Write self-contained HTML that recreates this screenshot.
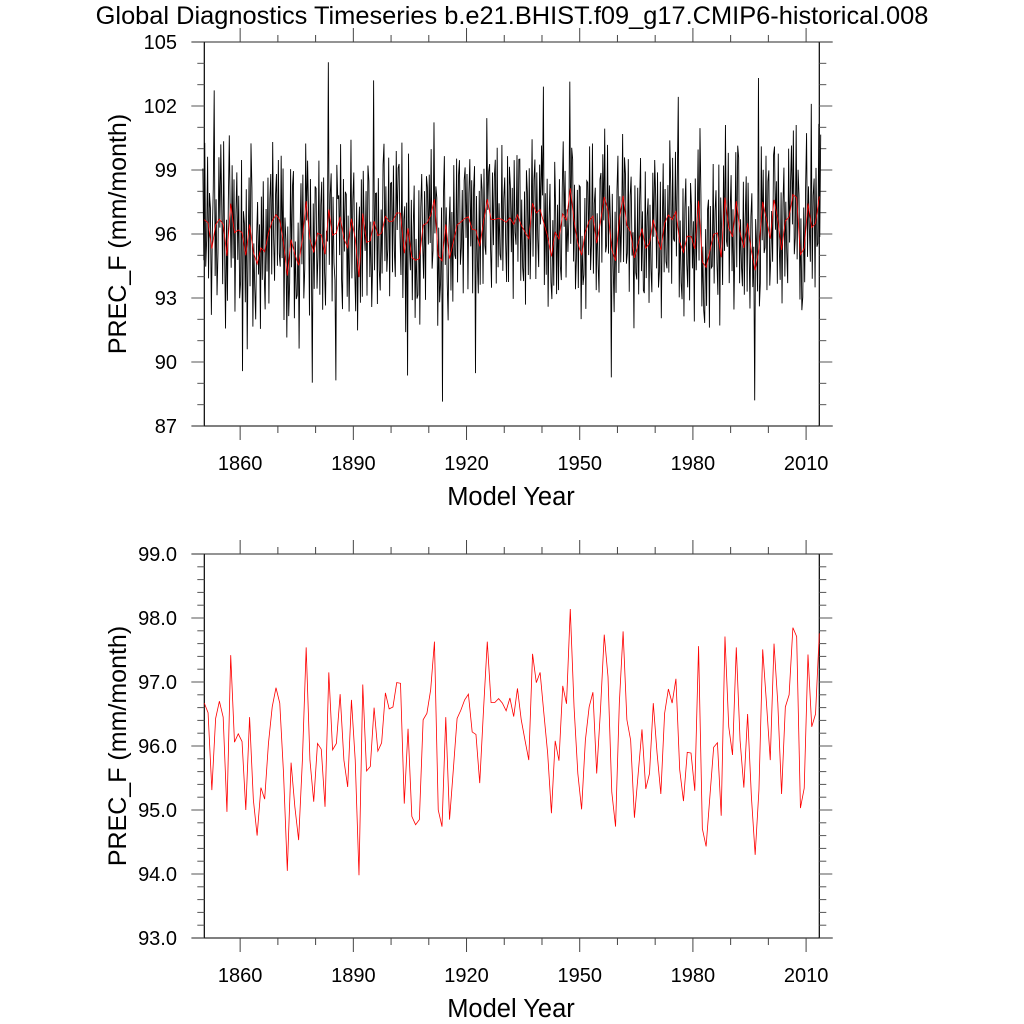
<!DOCTYPE html>
<html><head><meta charset="utf-8"><style>
html,body{margin:0;padding:0;background:#fff;}
svg{display:block;font-family:"Liberation Sans",Arial,sans-serif;}
</style></head><body>
<svg id="chart" width="1024" height="1024" viewBox="0 0 1024 1024" xmlns="http://www.w3.org/2000/svg">
<rect width="1024" height="1024" fill="#fff"/>
<text x="512" y="24" font-size="25.4" text-anchor="middle">Global Diagnostics Timeseries b.e21.BHIST.f09_g17.CMIP6-historical.008</text>
<g id="top"></g>
<g id="bot"></g>
</svg>
<script>
// annual mean PREC_F (mm/month), years 1850..2013
const annualValues = [96.67,96.52,95.31,96.43,96.70,96.45,94.97,97.42,96.06,96.19,96.07,95.00,96.45,95.16,94.60,95.35,95.17,96.04,96.61,96.91,
96.67,95.57,94.05,95.74,95.05,94.53,95.78,97.54,95.78,95.13,96.04,95.95,95.05,97.15,95.94,96.04,96.81,95.78,95.36,96.72,
95.78,93.98,96.96,95.61,95.68,96.60,95.92,96.05,96.83,96.58,96.61,96.99,96.98,95.10,96.27,94.90,94.77,94.85,96.41,96.51,
96.88,97.63,95.00,94.74,96.45,94.85,95.63,96.43,96.56,96.72,96.81,96.22,96.18,95.42,96.56,97.63,96.68,96.68,96.74,96.67,
96.55,96.75,96.46,96.90,96.41,96.09,95.78,97.44,96.99,97.15,96.51,95.89,94.95,96.08,95.77,96.94,96.66,98.14,96.61,95.57,
95.01,96.09,96.61,96.84,95.57,96.56,97.74,97.08,95.28,94.74,96.67,97.79,96.41,96.09,94.88,95.57,96.26,95.33,95.57,96.67,
95.89,95.25,96.51,96.89,96.67,97.05,95.63,95.14,95.90,95.89,95.30,97.56,94.71,94.43,95.21,95.98,96.05,94.91,97.71,96.30,
95.86,97.54,96.09,95.35,96.50,95.21,94.30,95.31,97.51,96.67,95.78,97.60,96.67,95.25,96.61,96.80,97.85,97.71,95.03,95.34,
97.43,96.30,96.50,97.76];
const startYear = 1850;
// sub-annual (quarterly) anomalies from the annual mean, 4 per year
const subAnnualAnom = [2.4,-1.9,3.6,-2.2,-0.8,3.1,-2.6,1.4,1.9,-3.1,0.7,2.8,6.3,-2.4,1.2,-3.3,-1.6,2.9,-0.4,3.5,
0.9,-2.8,3.9,-1.1,-3.4,1.7,-2.1,2.6,3.2,-0.6,-3.0,1.8,-1.2,2.5,-3.7,0.8,2.7,-1.4,1.6,-3.2,
-2.3,3.4,-6.5,1.0,1.5,-2.2,3.1,-4.4,-0.9,2.2,-2.9,3.8,3.0,-3.5,0.4,-1.7,-2.6,1.3,2.9,-0.5,
1.1,-3.8,2.4,-1.5,3.3,-1.0,-2.7,2.0,-1.8,2.6,-3.3,1.6,2.2,-2.5,3.7,-0.8,-3.1,0.9,1.9,-2.4,
2.8,-1.6,-2.2,3.0,-0.7,3.5,-3.6,1.2,1.7,-2.9,2.3,-1.9,-2.0,3.3,-1.3,2.5,3.9,-3.0,0.6,-2.1,
-1.4,2.0,-3.9,1.5,2.6,-1.2,3.0,-2.8,-3.2,2.7,-0.9,1.9,1.3,-3.6,2.8,-1.0,-6.1,2.3,-1.7,3.1,
2.1,-2.6,-1.1,3.4,-2.8,1.4,2.5,-3.5,3.6,-0.8,-2.4,1.1,-1.5,6.9,-2.6,0.7,2.9,-3.1,1.8,-1.3,
-2.2,-6.9,3.2,1.6,1.0,-1.8,3.4,-2.9,-3.3,2.8,-0.6,2.2,2.5,-2.3,1.5,-3.0,-1.1,3.7,-2.8,0.9,
3.1,-1.5,-3.4,1.7,-2.5,2.1,3.3,-1.2,1.6,-3.9,2.0,-0.7,-0.4,2.4,-2.5,3.6,2.8,-1.7,0.9,-3.1,
-1.9,6.6,-2.3,1.3,2.0,-3.2,2.7,-1.6,-2.7,1.1,-1.9,3.2,3.4,-2.1,1.4,-2.6,-1.3,3.0,-3.5,1.8,
1.8,-2.4,2.6,-1.4,-3.0,2.9,-0.8,2.1,2.3,-1.1,-2.9,3.3,-2.1,1.6,2.2,-3.7,1.2,-6.9,3.5,-0.9,
-0.6,2.7,-2.0,1.4,3.5,-2.7,1.0,-1.8,-1.7,3.2,-3.1,2.4,2.4,-0.9,-2.5,1.6,-3.6,2.2,1.7,-1.0,
1.9,-1.3,3.1,-2.5,-2.4,3.6,-1.6,0.6,2.7,-3.3,1.3,-2.2,-1.0,2.5,-6.6,3.0,3.2,-1.9,0.8,-2.7,
-2.9,1.5,2.9,-1.5,1.4,-2.8,3.6,-0.6,-1.6,3.1,-2.7,2.3,2.9,-2.0,-1.2,1.5,-3.5,1.8,2.4,-0.9,
2.0,-3.4,1.1,2.7,-0.8,2.3,-3.0,1.9,3.0,-6.7,1.6,-1.4,-2.2,2.6,-1.8,3.4,1.5,-2.9,2.5,-1.1,
-2.6,3.8,-0.5,1.3,2.6,-1.4,-3.2,2.2,-1.2,2.0,2.8,-3.0,3.3,-2.3,0.7,-1.7,-1.9,3.5,-2.4,1.0,
2.1,-1.0,-2.8,3.1,-3.0,2.4,1.5,-1.6,1.7,-3.5,3.0,-0.4,-1.4,2.8,-2.2,2.6,3.1,-2.6,1.2,-2.0,
-2.3,1.9,-3.4,2.9,2.2,-1.7,3.3,-1.9,-0.9,3.0,-2.5,1.1,2.5,-3.1,1.9,-1.2,-2.7,2.1,-0.7,3.0,
1.3,6.4,-2.9,1.4,-1.8,2.7,-3.3,0.8,3.4,-1.2,-2.0,1.7,-2.5,3.3,1.0,-2.9,1.6,-2.4,2.8,-1.3,
-3.1,1.2,3.4,-0.6,2.3,-2.7,0.5,-1.5,-1.5,5.0,-2.6,1.9,2.9,-1.9,1.7,-3.2,-0.7,2.5,-2.1,2.7,
3.2,-3.0,0.9,-1.4,-2.0,1.6,-3.6,2.4,1.8,-1.6,3.5,-2.3,-1.3,3.4,-2.7,0.6,2.6,-2.2,1.4,-1.0,
-3.3,2.0,2.3,-1.9,2.0,-1.1,3.2,-2.6,-1.6,3.1,-2.0,1.2,1.4,-6.0,2.6,-0.8,-2.4,2.3,-1.5,3.3,
3.0,-2.5,1.1,-2.0,-1.1,2.9,-3.1,1.8,2.4,-1.8,-1.3,3.1,-2.8,1.7,2.6,-1.1,1.2,-3.3,3.4,-0.7,
-1.7,2.6,-2.4,2.0,3.3,-2.0,0.8,-2.9,-2.1,3.6,-1.4,1.5,2.1,-2.8,1.8,-1.2,-3.4,2.2,-0.8,2.8,
1.9,-1.5,3.0,-2.4,-1.0,3.2,-3.2,1.0,2.8,-2.3,1.6,-1.8,-2.5,1.4,-2.7,3.5,1.6,-3.0,2.9,-0.9,
-1.4,2.8,-2.1,1.6,6.8,-2.6,1.0,-1.9,-2.2,3.0,-3.0,2.1,2.7,-1.3,-2.4,1.4,-3.0,2.5,1.4,-1.5,
1.3,-3.4,3.3,-1.0,-1.2,2.4,-2.8,3.4,3.1,-2.1,0.7,-2.3,-2.6,1.8,-1.8,2.7,2.4,-3.6,2.1,-0.8,
-1.5,3.3,-2.3,1.1,2.0,-1.4,-2.9,3.2,-3.2,2.8,1.2,-1.3,1.5,-2.5,3.4,-2.0,-0.9,3.5,-2.6,0.8,
2.9,-1.6,1.3,-3.4,-2.0,2.3,-3.1,2.6,3.5,-2.4,0.6,-1.6,-1.8,3.1,-2.2,1.4,2.2,-3.2,1.9,-0.9,
-2.7,1.6,2.7,-1.7,1.1,-6.1,2.4,1.3,-2.0,8.0,-2.7,-1.6,2.6,-1.8,1.5,-2.4,-1.3,3.0,-3.3,1.8,
3.2,-2.2,-1.0,1.3,-2.9,2.1,2.5,-1.4,1.8,-3.0,3.1,-1.2,-1.4,2.7,-2.5,2.2,2.5,-2.6,0.9,-1.5,
-3.1,3.2,-1.2,1.6,2.3,-1.4,3.0,-2.8,-1.9,3.4,-2.9,1.3,2.8,-2.1,1.7,-2.6,-2.3,1.9,-1.6,2.9,
3.3,-2.5,0.8,-1.2,-1.6,5.8,-2.4,1.5,2.1,-3.0,2.6,-1.1,-2.2,3.4,-1.9,2.9];
const xTickLabels = ["1860","1890","1920","1950","1980","2010"];
const topYTickLabels = ["87","90","93","96","99","102","105"];
const botYTickLabels = ["93.0","94.0","95.0","96.0","97.0","98.0","99.0"];

const NS = "http://www.w3.org/2000/svg";
const X0 = 204.3, X1 = 819.3, XMIN = 1850.5, XMAX = 2013.5;
function xs(yr){ return X0 + (yr - XMIN) / (XMAX - XMIN) * (X1 - X0); }
function mk(parent, tag, attrs){ const e = document.createElementNS(NS, tag); for (const k in attrs) e.setAttribute(k, attrs[k]); parent.appendChild(e); return e; }

function panel(g, yTop, yBot, vmin, vmax, majorStep, minorStep, yLabels) {
  const ys = v => yBot - (v - vmin) / (vmax - vmin) * (yBot - yTop);
  let l = mk(g, "line", {x1:191.7, x2:832.7, y1:yTop, y2:yTop, stroke:"#555", "stroke-width":1.2});
  
  
  l = mk(g, "line", {x1:191.7, x2:832.7, y1:yBot, y2:yBot, stroke:"#333", "stroke-width":1.2});
  
  
  l = mk(g, "line", {x1:X0, x2:X0, y1:yTop, y2:yBot, stroke:"#000", "stroke-width":1.2});
  
  
  l = mk(g, "line", {x1:X1, x2:X1, y1:yTop, y2:yBot, stroke:"#000", "stroke-width":1.2});
  
  
  for (let yr = 1860; yr <= 2010; yr += 10) {
    const x = xs(yr), major = (yr - 1860) % 30 === 0, len = major ? 14 : 7;
    const t1 = mk(g, "line", {x1:x, x2:x, y1:yBot, y2:yBot + len, stroke:"#444", "stroke-width":1});
    
    
    const t2 = mk(g, "line", {x1:x, x2:x, y1:yTop, y2:yTop - len, stroke:"#444", "stroke-width":1});
    
    
  }
  xTickLabels.forEach(s => {
    const t = mk(g, "text", {x:xs(+s), y:yBot + 44, "font-size":20, "text-anchor":"middle"});
    t.textContent = s;
    
    
  });
  const n = Math.round((vmax - vmin) / minorStep);
  for (let i = 0; i <= n; i++) {
    const v = vmin + i * minorStep, y = ys(v);
    const major = Math.abs((v - vmin) / majorStep - Math.round((v - vmin) / majorStep)) < 1e-6;
    const len = major ? 13 : 7;
    const a = mk(g, "line", {x1:X0 - len, x2:X0, y1:y, y2:y, stroke:"#555", "stroke-width":1});
    
    
    const b = mk(g, "line", {x1:X1, x2:X1 + len, y1:y, y2:y, stroke:"#555", "stroke-width":1});
    
    
  }
  yLabels.forEach(s => {
    const t = mk(g, "text", {x:177, y:ys(+s) + 7, "font-size":20, "text-anchor":"end"});
    t.textContent = s;
    
    
  });
  const xt = mk(g, "text", {x:511, y:yBot + 79, "font-size":25.5, "text-anchor":"middle"});
  xt.textContent = "Model Year";
  
  
  const cy = (yTop + yBot) / 2;
  const yt = mk(g, "text", {x:0, y:0, "font-size":25, "text-anchor":"middle", transform:`translate(126,${cy}) rotate(-90)`});
  yt.textContent = "PREC_F (mm/month)";
  
  
  return ys;
}

const gTop = document.getElementById("top"), gBot = document.getElementById("bot");
const ysTop = panel(gTop, 42, 426, 87, 105, 3, 1, topYTickLabels);
const ysBot = panel(gBot, 554, 938, 93, 99, 1, 0.2, botYTickLabels);

let d = "";
subAnnualAnom.forEach((a, k) => {
  const yi = Math.floor(k / 4);
  const v = annualValues[Math.min(yi, annualValues.length - 1)] + a;
  const x = xs(startYear + k / 4 + 0.125);
  d += (k ? "L" : "M") + x.toFixed(2) + "," + ysTop(v).toFixed(2);
});
const blk = mk(gTop, "path", {d, fill:"none", stroke:"#000", "stroke-width":0.9});



function annualPath(ys) {
  return annualValues.map((v, i) => (i ? "L" : "M") + xs(startYear + i + 0.5).toFixed(2) + "," + ys(v).toFixed(2)).join("");
}
const rTop = mk(gTop, "path", {d:annualPath(ysTop), fill:"none", stroke:"#f00", "stroke-width":0.8});


const rBot = mk(gBot, "path", {d:annualPath(ysBot), fill:"none", stroke:"#f00", "stroke-width":0.8});


</script>
</body></html>
